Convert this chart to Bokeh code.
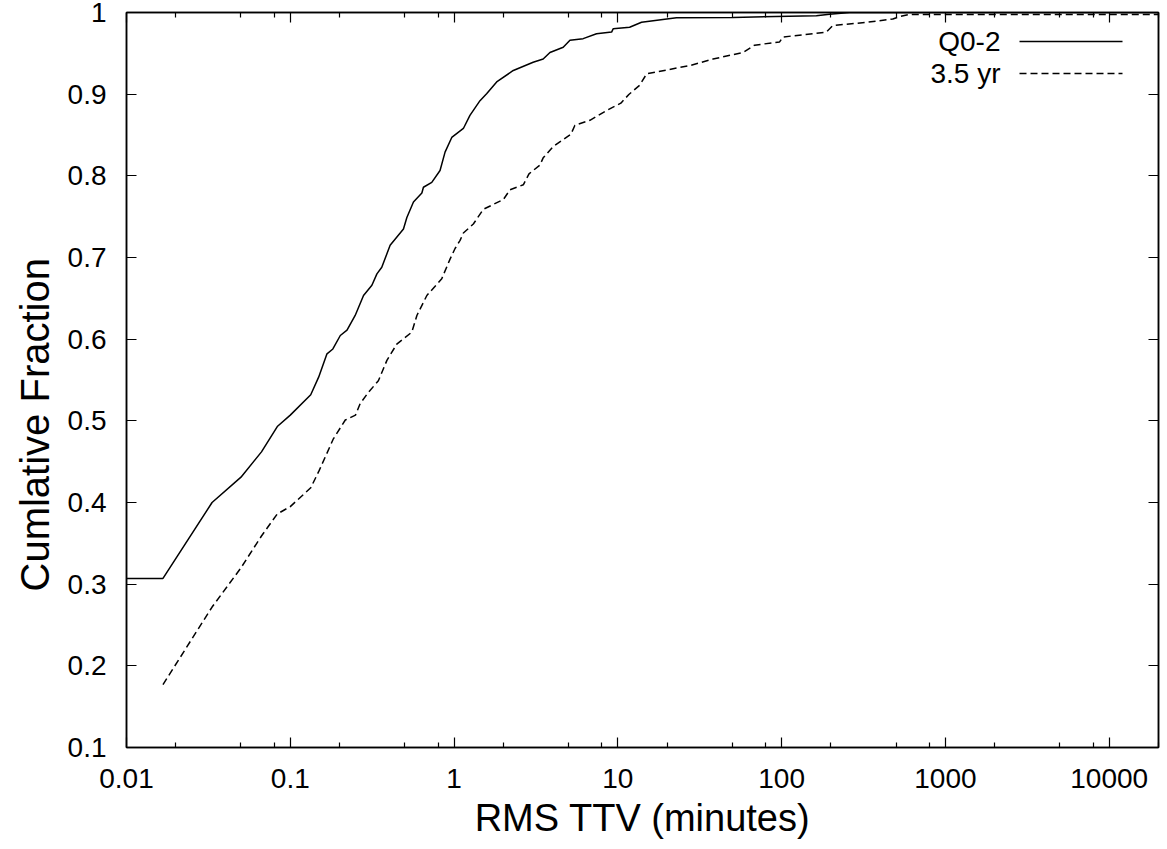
import math
from bokeh.plotting import figure
from bokeh.models import (FixedTicker, LogAxis, LinearAxis, Label, Range1d, Title,
                          CustomJSTickFormatter, ColumnDataSource)
from bokeh.embed import file_html
from bokeh.resources import INLINE

# ---------------- data ----------------
series_names = ["Q0-2", "3.5 yr"]

q02_x = [0.005, 0.0167, 0.0333, 0.05, 0.0667, 0.0833, 0.1, 0.1333, 0.149, 0.1675,
         0.182, 0.202, 0.222, 0.249, 0.28, 0.315, 0.338, 0.362, 0.407, 0.491,
         0.515, 0.565, 0.636, 0.65, 0.731, 0.821, 0.881, 0.968, 1.14, 1.25,
         1.44, 1.58, 1.82, 2.30, 3.04, 3.50, 3.85, 4.64, 5.10, 6.14,
         7.41, 9.16, 9.36, 11.8, 13.95, 22.8, 50.5, 163, 196, 260, 20000]
q02_y = [0.307, 0.307, 0.400, 0.431, 0.462, 0.493, 0.507, 0.532, 0.5535, 0.582,
         0.588, 0.6045, 0.611, 0.629, 0.6535, 0.666, 0.680, 0.688, 0.715, 0.735,
         0.749, 0.768, 0.779, 0.786, 0.792, 0.8065, 0.829, 0.847, 0.858, 0.874,
         0.892, 0.9005, 0.915, 0.929, 0.939, 0.943, 0.951, 0.9575, 0.966, 0.968,
         0.974, 0.976, 0.980, 0.982, 0.988, 0.9935, 0.994, 0.996, 0.998, 1.0, 1.0]

yr35_x = [0.0167, 0.0333, 0.05, 0.0667, 0.0833, 0.1, 0.1333, 0.15, 0.1833, 0.2167,
          0.25, 0.267, 0.3, 0.345, 0.389, 0.447, 0.552, 0.593, 0.682, 0.841,
          0.945, 1.014, 1.088, 1.14, 1.311, 1.509, 2.0, 2.196, 2.647, 2.867,
          3.34, 3.50, 4.03, 5.17, 5.47, 6.75, 8.53, 10.43, 11.67, 13.6,
          15.0, 27.5, 38.1, 58.1, 68.4, 97.2, 101.9, 187.4, 205.6, 328,
          477, 524, 600, 20000]
yr35_y = [0.177, 0.272, 0.320, 0.359, 0.386, 0.395, 0.418, 0.439, 0.478, 0.501,
          0.507, 0.521, 0.535, 0.549, 0.574, 0.594, 0.6086, 0.629, 0.6535, 0.674,
          0.698, 0.711, 0.721, 0.730, 0.741, 0.759, 0.771, 0.783, 0.789, 0.8025,
          0.813, 0.822, 0.836, 0.851, 0.862, 0.868, 0.880, 0.889, 0.8996, 0.911,
          0.925, 0.935, 0.943, 0.951, 0.960, 0.964, 0.970, 0.976, 0.984, 0.988,
          0.992, 0.995, 0.9976, 0.9976]

x_major_ticks = [0.01, 0.1, 1, 10, 100, 1000, 10000]
x_minor_ticks = [0.02, 0.05, 0.08, 0.2, 0.5, 0.8, 2, 5, 8, 20, 50, 80,
                 200, 500, 800, 2000, 5000, 8000, 20000]
y_ticks = [0.1, 0.2, 0.3, 0.4, 0.5, 0.6, 0.7, 0.8, 0.9, 1.0]

x_title = "RMS TTV (minutes)"
y_title = "Cumlative Fraction"

# ---------------- styling ----------------
FONT = "Liberation Sans"
TICK_PX = "28px"
X_MIN, X_MAX = 0.01, 20000
Y_MIN, Y_MAX = 0.1, 1.0

p = figure(width=1160, height=849, x_axis_type="log",
           x_range=Range1d(X_MIN, X_MAX), y_range=Range1d(Y_MIN, Y_MAX),
           output_backend="svg", toolbar_location=None,
           min_border_left=126, min_border_right=2,
           min_border_top=12, min_border_bottom=102)
p.background_fill_color = "white"
p.border_fill_color = "white"
p.outline_line_color = "black"
p.outline_line_width = 1.5
p.xgrid.visible = False
p.ygrid.visible = False

fmt = CustomJSTickFormatter(code="return String(Number(tick.toPrecision(6)));")
blank = CustomJSTickFormatter(code="return '';")

def style_axis(ax, show_labels=True, minor=True):
    ax.axis_line_color = "black"
    ax.axis_line_width = 1.5
    ax.major_tick_line_color = "black"
    ax.major_tick_line_width = 1.2
    ax.major_tick_in = 10
    ax.major_tick_out = 0
    if minor:
        ax.minor_tick_line_color = "black"
        ax.minor_tick_line_width = 1.2
        ax.minor_tick_in = 5
        ax.minor_tick_out = 0
    else:
        ax.minor_tick_line_color = None
    ax.major_label_text_font = FONT
    ax.major_label_text_color = "black"
    if show_labels:
        ax.major_label_text_font_size = TICK_PX
    else:
        ax.major_label_text_font_size = "1px"
        ax.major_label_standoff = 0

xt = FixedTicker(ticks=x_major_ticks, minor_ticks=x_minor_ticks)
yt = FixedTicker(ticks=y_ticks)

xa = p.xaxis[0]
xa.ticker = xt
xa.formatter = fmt
style_axis(xa)
xa.major_label_standoff = 21

ya = p.yaxis[0]
ya.ticker = yt
ya.formatter = fmt
style_axis(ya, minor=False)
ya.major_label_standoff = 20

top = LogAxis(ticker=xt, formatter=blank)
style_axis(top, show_labels=False)
p.add_layout(top, "above")

right = LinearAxis(ticker=yt, formatter=blank)
style_axis(right, show_labels=False, minor=False)
p.add_layout(right, "right")

# ---------------- axis titles ----------------
ttl_x = Title(text=x_title, align="center", text_font=FONT, text_font_size="38px",
              text_font_style="normal", text_color="black", standoff=8)
p.add_layout(ttl_x, "below")
ttl_y = Title(text=y_title, align="left", offset=156, text_font=FONT,
              text_font_size="40px", text_font_style="normal", text_color="black",
              standoff=16)
p.add_layout(ttl_y, "left")

# ---------------- series ----------------
src_q = ColumnDataSource(dict(x=q02_x, y=q02_y))
src_y = ColumnDataSource(dict(x=yr35_x, y=yr35_y))
p.line("x", "y", source=src_q, line_color="black", line_width=1.5)
p.line("x", "y", source=src_y, line_color="black", line_width=1.5, line_dash="7 4")

# ---------------- helpers: frame pixel -> data ----------------
FRAME_L, FRAME_R, FRAME_T, FRAME_B = 126.0, 1158.0, 12.0, 747.0
def px_to_x(px):
    lo, hi = math.log10(X_MIN), math.log10(X_MAX)
    return 10 ** (lo + (px - FRAME_L) / (FRAME_R - FRAME_L) * (hi - lo))
def py_to_y(py):
    return Y_MAX - (py - FRAME_T) / (FRAME_B - FRAME_T) * (Y_MAX - Y_MIN)

# ---------------- legend (gnuplot style: text left, sample right) ----------------
legend_rows = [(41, None), (73, "7 4")]
for name, (row_py, dash) in zip(series_names, legend_rows):
    p.add_layout(Label(x=px_to_x(1000), y=py_to_y(row_py), text=name,
                       text_font=FONT, text_font_size=TICK_PX, text_color="black",
                       text_align="right", text_baseline="middle"))
    kw = dict(line_color="black", line_width=1.5)
    if dash:
        kw["line_dash"] = dash
    p.line([px_to_x(1019), px_to_x(1122)], [py_to_y(row_py)] * 2, **kw)

open("out.html", "w").write(file_html(p, INLINE))
